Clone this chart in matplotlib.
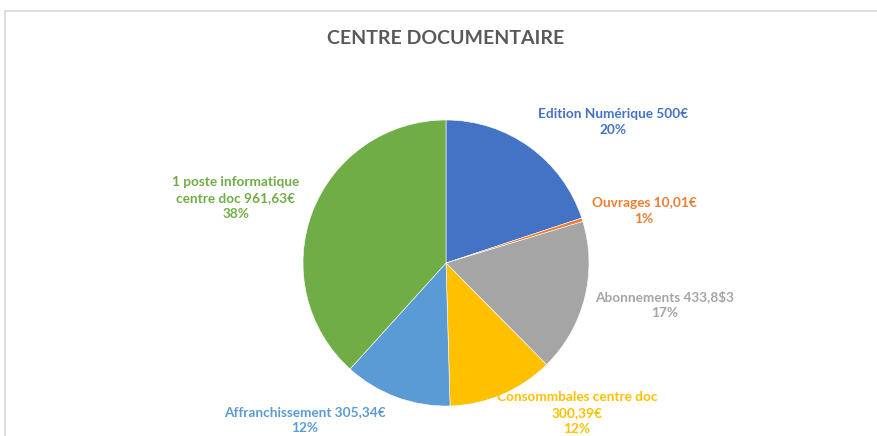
import matplotlib.pyplot as plt
from matplotlib.lines import Line2D

# data
categories = [
    "Edition Numérique",
    "Ouvrages",
    "Abonnements",
    "Consommbales centre doc",
    "Affranchissement",
    "1 poste informatique centre doc",
]
amounts = [500.0, 10.01, 433.83, 300.39, 305.34, 961.63]
label_texts = [
    "Edition Numérique 500€\n20%",
    "Ouvrages 10,01€\n1%",
    "Abonnements 433,8$3\n17%",
    "Consommbales centre doc\n300,39€\n12%",
    "Affranchissement 305,34€\n12%",
    "1 poste informatique\ncentre doc 961,63€\n38%",
]
colors = ["#4472C4", "#ED7D31", "#A5A5A5", "#FFC000", "#5B9BD5", "#70AD47"]

# label anchor points in pixels (x centre, top of text block from top edge)
label_pos = [(613, 108), (644, 197), (665, 290), (577, 391), (305, 406), (236, 176)]

W, H = 877, 436
plt.rcParams["font.family"] = ["Lato", "DejaVu Sans"]

fig = plt.figure(figsize=(W / 100, H / 100), dpi=100)
ax = fig.add_axes([0, 0, 1, 1])

cx, cy, r = 446, H - 263, 143
ax.pie(
    amounts,
    colors=colors,
    startangle=90,
    counterclock=False,
    center=(cx, cy),
    radius=r,
    wedgeprops=dict(edgecolor="white", linewidth=0.4),
    frame=True,
)
ax.set_xlim(0, W)
ax.set_ylim(0, H)
ax.set_aspect("equal")
ax.axis("off")

for txt, (x, y), c in zip(label_texts, label_pos, colors):
    ax.text(x, H - y, txt, color=c, fontsize=9.8, fontweight="bold",
            ha="center", va="top", linespacing=1.42)

ax.text(446, H - 39, "CENTRE DOCUMENTAIRE", color="#595959", fontsize=14,
        fontweight="bold", ha="center", va="center")

# chart frame (partially visible)
fig.add_artist(Line2D([5 / W, 1], [1 - 11 / H, 1 - 11 / H], color="#D9D9D9", lw=1.2))
fig.add_artist(Line2D([5 / W, 5 / W], [0, 1 - 11 / H], color="#D9D9D9", lw=1.2))

fig.savefig("out.png", dpi=100, facecolor="white")
